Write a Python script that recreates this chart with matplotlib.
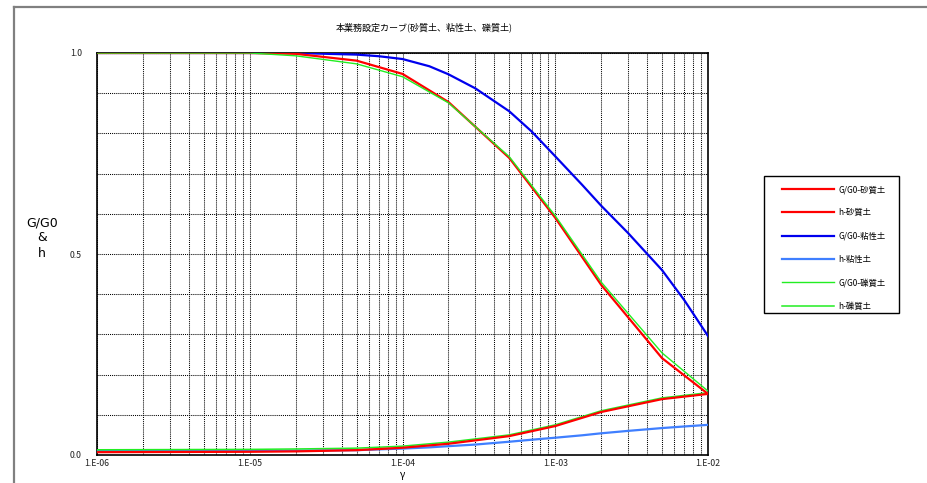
import numpy as np
import matplotlib.pyplot as plt
from matplotlib.lines import Line2D
from matplotlib.patches import Rectangle
from matplotlib.ticker import FixedLocator, FuncFormatter, NullFormatter

plt.rcParams['font.family'] = ['Noto Sans CJK JP', 'DejaVu Sans']

# ひずみ(γ)
strain = [1e-6, 1e-5, 2e-5, 5e-5, 1e-4, 2e-4, 5e-4, 1e-3, 2e-3, 5e-3, 1e-2]

# 砂質土
gg0_sand = [1.000, 1.000, 0.998, 0.981, 0.948, 0.878, 0.739, 0.590, 0.423, 0.241, 0.152]
h_sand = [0.007, 0.008, 0.009, 0.012, 0.018, 0.028, 0.047, 0.072, 0.107, 0.139, 0.152]

# 粘性土
strain_clay = [1e-6, 1e-5, 2e-5, 5e-5, 7e-5, 1e-4, 1.5e-4, 2e-4, 3e-4, 5e-4, 7e-4,
               1e-3, 1.5e-3, 2e-3, 3e-3, 5e-3, 7e-3, 1e-2]
gg0_clay = [1.000, 1.000, 1.000, 0.996, 0.992, 0.985, 0.967, 0.947, 0.912, 0.855, 0.805,
            0.743, 0.672, 0.620, 0.552, 0.460, 0.385, 0.296]
h_clay = [0.010, 0.010, 0.011, 0.012, 0.014, 0.016, 0.019, 0.022, 0.026, 0.033, 0.038,
          0.043, 0.049, 0.054, 0.060, 0.067, 0.071, 0.075]

# 礫質土
gg0_gravel = [1.000, 1.000, 0.993, 0.973, 0.941, 0.876, 0.742, 0.595, 0.430, 0.254, 0.159]
h_gravel = [0.013, 0.014, 0.015, 0.017, 0.022, 0.032, 0.050, 0.075, 0.110, 0.142, 0.155]

W, H = 927, 483
fig = plt.figure(figsize=(W / 100, H / 100), dpi=100)
ax = fig.add_axes([97 / W, 1 - 455 / H, (708 - 97) / W, (455 - 53) / H])

ax.plot(strain, gg0_sand, color='#FF0000', lw=1.6, label='G/G0-砂質土', zorder=5)
ax.plot(strain, h_sand, color='#FF0000', lw=1.6, label='h-砂質土', zorder=5)
ax.plot(strain_clay, gg0_clay, color='#0000EE', lw=1.6, label='G/G0-粘性土', zorder=4)
ax.plot(strain_clay, h_clay, color='#3F7FFF', lw=1.6, label='h-粘性土', zorder=4)
ax.plot(strain, gg0_gravel, color='#22EE22', lw=1.0, label='G/G0-礫質土', zorder=6)
ax.plot(strain, h_gravel, color='#22EE22', lw=1.1, label='h-礫質土', zorder=4)

ax.set_xscale('log')
ax.set_xlim(1e-6, 1e-2)
ax.set_ylim(0, 1)

xmajor = [1e-6, 1e-5, 1e-4, 1e-3, 1e-2]
xlabels = ['1.E-06', '1.E-05', '1.E-04', '1.E-03', '1.E-02']
ax.xaxis.set_major_locator(FixedLocator(xmajor))
ax.xaxis.set_major_formatter(FuncFormatter(lambda v, p: xlabels[xmajor.index(v)] if v in xmajor else ''))
ax.xaxis.set_minor_locator(FixedLocator([m * d for d in xmajor[:-1] for m in range(2, 10)]))
ax.xaxis.set_minor_formatter(NullFormatter())
ax.set_yticks([0, 0.5, 1.0])
ax.set_yticklabels(['0.0', '0.5', '1.0'])
ax.set_yticks(np.arange(0.1, 1.0, 0.1), minor=True)

ax.tick_params(which='both', length=0, labelsize=6.3, colors='#222222')
ax.tick_params(axis='y', pad=11)
ax.tick_params(axis='x', pad=3)

ax.grid(True, which='both', color='black', linestyle=(0, (1, 1)), lw=0.75)
for s in ax.spines.values():
    s.set_linewidth(1.2)
    s.set_color('black')

ax.set_xlabel('γ', fontsize=7, labelpad=1)

fig.text(424 / W, 1 - 27 / H, '本業務設定カーブ(砂質土、粘性土、礫質土)',
         fontsize=6.5, ha='center', va='center')
fig.text(42 / W, 1 - 238 / H, 'G/G0\n&\nh', fontsize=9, ha='center', va='center',
         linespacing=1.25, family='DejaVu Sans')

# 外枠
fig.add_artist(Line2D([14 / W, 14 / W], [0, 1 - 7 / H], color='#808080', lw=1.6))
fig.add_artist(Line2D([14 / W, 1], [1 - 7 / H, 1 - 7 / H], color='#808080', lw=1.6))

# 凡例
leg = ax.legend(loc='upper left', bbox_to_anchor=(782 / W, 1 - 185 / H),
                bbox_transform=fig.transFigure, fontsize=6, frameon=False,
                handlelength=6.2, handletextpad=0.6, labelspacing=1.72,
                borderpad=0, borderaxespad=0)
fig.add_artist(Rectangle((764 / W, 1 - 313 / H), (899 - 764) / W, (313 - 176) / H,
                         transform=fig.transFigure, fill=False, edgecolor='black', lw=1.0))

fig.savefig('out.png', dpi=100)
